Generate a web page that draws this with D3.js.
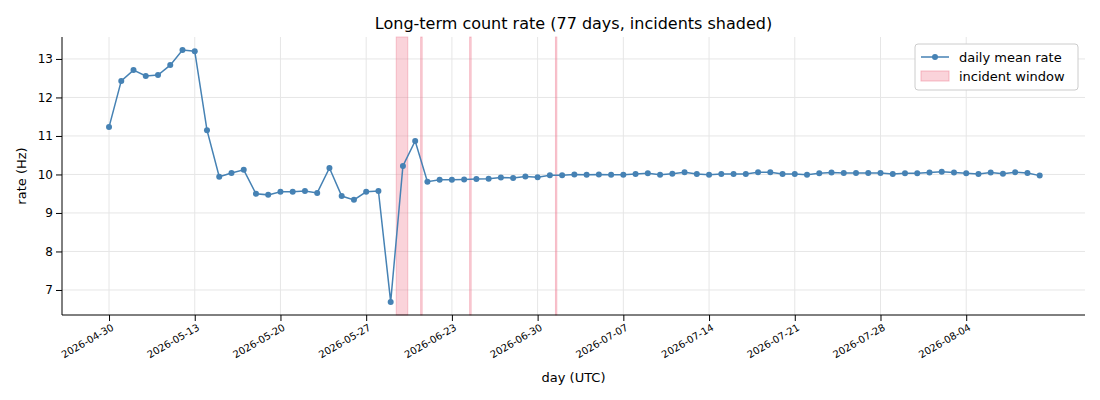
<!DOCTYPE html><html><head><meta charset="utf-8"><script src="https://cdn.jsdelivr.net/npm/d3@7"></script>
<style>body{margin:0;background:#fff}text{font-family:"DejaVu Sans",sans-serif}</style></head><body><svg id="c" width="1100" height="400"></svg>
<script>
const rates=[11.23,12.43,12.71,12.56,12.58,12.84,13.23,13.2,11.15,9.94,10.04,10.12,9.5,9.47,9.55,9.55,9.57,9.52,10.17,9.44,9.34,9.55,9.57,6.69,10.22,10.87,9.81,9.86,
9.86,9.87,9.88,9.89,9.92,9.91,9.95,9.93,9.98,9.98,10.0,9.99,10.0,9.99,9.99,10.01,10.03,9.99,10.02,10.06,10.01,9.99,10.01,10.01,10.01,10.06,10.06,10.01,10.01,9.99,10.03,10.05,10.04,10.04,10.04,10.04,10.01,10.03,10.03,10.05,10.07,10.05,10.03,10.01,10.05,10.02,10.06,10.04,9.97];
const tickIdx=[0,7,14,21,28,35,42,49,56,63,70];
const tickLabels=["2026-04-30","2026-05-13","2026-05-20","2026-05-27","2026-06-23","2026-06-30","2026-07-07","2026-07-14","2026-07-21","2026-07-28","2026-08-04"];
const incidents=[[23.45,24.4],[25.45,25.55],[29.45,29.55],[36.45,36.55]];
const yTicks=[7,8,9,10,11,12,13];
const svg=d3.select("#c");
const L=62,R=1085,T=37,B=315;
const x=d3.scaleLinear().domain([-3.84,79.7]).range([L,R]);
const y=d3.scaleLinear().domain([6.35,13.57]).range([B,T]);
const g=svg.append("g");
g.selectAll(".gx").data(tickIdx).join("line").attr("x1",d=>x(d)).attr("x2",d=>x(d)).attr("y1",T).attr("y2",B).attr("stroke","#e6e6e6");
g.selectAll(".gy").data(yTicks).join("line").attr("y1",d=>y(d)).attr("y2",d=>y(d)).attr("x1",L).attr("x2",R).attr("stroke","#e6e6e6");
g.selectAll(".inc").data(incidents).join("rect").attr("x",d=>x(d[0])).attr("width",d=>Math.max(1.5,x(d[1])-x(d[0]))).attr("y",T).attr("height",B-T)
 .attr("fill","rgba(240,128,150,0.35)").attr("stroke","rgba(240,128,150,0.5)").attr("stroke-width",0.8);
const line=d3.line().x((d,i)=>x(i)).y(d=>y(d));
g.append("path").datum(rates).attr("d",line).attr("fill","none").attr("stroke","#4682b4").attr("stroke-width",1.5);
g.selectAll(".pt").data(rates).join("circle").attr("cx",(d,i)=>x(i)).attr("cy",d=>y(d)).attr("r",3).attr("fill","#4682b4");
const ax=svg.append("g").attr("transform",`translate(0,${B})`).call(d3.axisBottom(x).tickValues(tickIdx).tickFormat((d,i)=>tickLabels[i]).tickSizeOuter(0));
ax.selectAll("text").attr("transform","rotate(-30)").attr("text-anchor","end").attr("dx","-0.3em").attr("dy","0.6em").style("font-size","10px");
ax.select(".domain").remove();
const ay=svg.append("g").attr("transform",`translate(${L},0)`).call(d3.axisLeft(y).tickValues(yTicks).tickSizeOuter(0));
ay.selectAll("text").style("font-size","12px");ay.select(".domain").remove();
svg.append("line").attr("x1",L).attr("x2",L).attr("y1",T).attr("y2",B).attr("stroke","#000");
svg.append("line").attr("x1",L).attr("x2",R).attr("y1",B).attr("y2",B).attr("stroke","#000");
svg.append("text").attr("x",(L+R)/2).attr("y",29).attr("text-anchor","middle").style("font-size","16px").text("Long-term count rate (77 days, incidents shaded)");
svg.append("text").attr("x",(L+R)/2).attr("y",382).attr("text-anchor","middle").style("font-size","13px").text("day (UTC)");
svg.append("text").attr("transform",`translate(26,${(T+B)/2}) rotate(-90)`).attr("text-anchor","middle").style("font-size","13px").text("rate (Hz)");
const lg=svg.append("g").attr("transform","translate(915,44)");
lg.append("rect").attr("width",163).attr("height",46).attr("rx",3).attr("fill","#fff").attr("stroke","#ccc");
lg.append("line").attr("x1",6).attr("x2",34).attr("y1",13).attr("y2",13).attr("stroke","#4682b4").attr("stroke-width",1.5);
lg.append("circle").attr("cx",20).attr("cy",13).attr("r",3).attr("fill","#4682b4");
lg.append("text").attr("x",44).attr("y",17.5).style("font-size","13px").text("daily mean rate");
lg.append("rect").attr("x",6).attr("y",27).attr("width",28).attr("height",10).attr("fill","rgba(240,128,150,0.35)").attr("stroke","rgba(240,128,150,0.5)");
lg.append("text").attr("x",44).attr("y",37).style("font-size","13px").text("incident window");
</script></body></html>
